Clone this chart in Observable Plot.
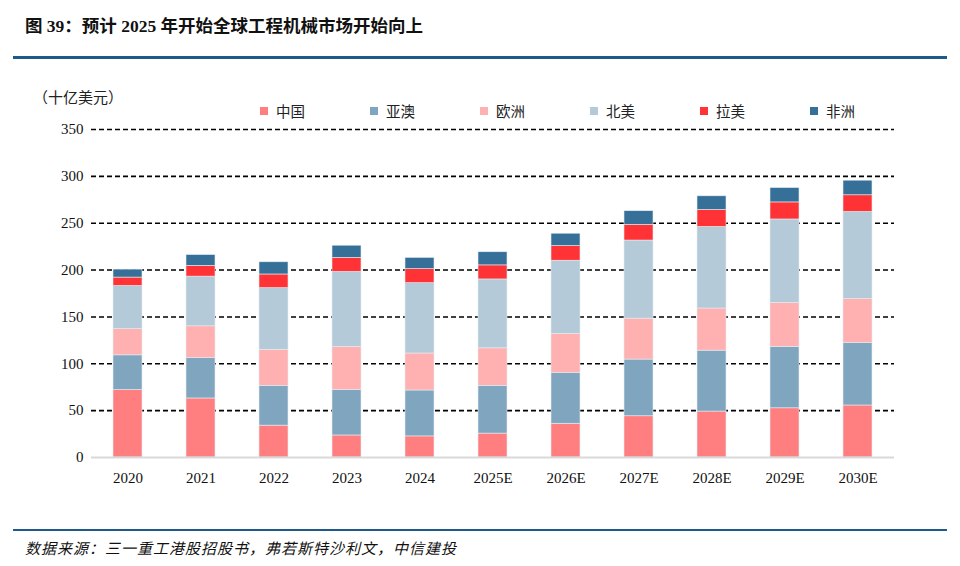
<!DOCTYPE html>
<html><head><meta charset="utf-8">
<script src="https://cdn.jsdelivr.net/npm/d3@7"></script>
<script src="https://cdn.jsdelivr.net/npm/@observablehq/plot@0.6"></script>
<style>
html,body{margin:0;padding:0;background:#fff}
#wrap{position:relative;width:960px;height:566px;overflow:hidden;font-family:"Noto Sans CJK SC","Noto Sans",sans-serif}
#title{position:absolute;left:25px;top:12px;font-family:"Liberation Serif","Noto Sans CJK SC",serif;font-weight:bold;font-size:17.5px;color:#111;white-space:nowrap}
.hline{position:absolute;left:13px;width:934px;height:3px;background:#1f5b8a}
#unit{position:absolute;left:33px;top:86px;font-size:15px;color:#222}
.leg{position:absolute;top:100px;font-size:14.5px;color:#222;display:flex;align-items:center;white-space:nowrap}
.leg i{display:inline-block;width:8px;height:8px;margin-right:8px}
#chart{position:absolute;left:0;top:60px}
#foot{position:absolute;left:25px;top:537px;font-size:15px;letter-spacing:1px;font-style:italic;color:#111;white-space:nowrap}
</style>
</head><body>
<div id="wrap">
  <div id="title">图 39：预计 2025 年开始全球工程机械市场开始向上</div>
  <div class="hline" style="top:56px"></div>
  <div id="unit">（十亿美元）</div>
  <div id="legend"></div>
  <div id="chart"></div>
  <div class="hline" style="top:529px;height:2px"></div>
  <div id="foot">数据来源：三一重工港股招股书，弗若斯特沙利文，中信建投</div>
</div>
<script>
const years = ["2020","2021","2022","2023","2024","2025E","2026E","2027E","2028E","2029E","2030E"];
const seriesNames = ["中国","亚澳","欧洲","北美","拉美","非洲"];
const china    = [72, 63, 34, 23.5, 22.5, 25.5, 36, 44, 49, 52.5, 55.5];
const asiaPac  = [37, 43, 42.5, 48.5, 49, 51, 54, 60.5, 65, 65.5, 66.5];
const europe   = [28, 34, 38.5, 46, 39.5, 40, 42, 43.7, 45, 47, 47];
const nAmerica = [46, 53, 65.7, 80, 75, 73.5, 78, 83.3, 87, 89, 93];
const latAm    = [9, 11.5, 14.6, 15, 15, 15, 15.6, 16.7, 18.2, 18.2, 17.8];
const africa   = [8.5, 11.5, 13, 13, 12, 14, 13.2, 14.6, 14.5, 15.3, 15.6];
const yTicks = [0, 50, 100, 150, 200, 250, 300, 350];
const colors = ["#ff7f80", "#80a6bf", "#ffb1b1", "#b4cad9", "#ff3336", "#366f98"];

const valuesBySeries = [china, asiaPac, europe, nAmerica, latAm, africa];
const data = [];
years.forEach((y, i) => {
  seriesNames.forEach((s, j) => data.push({year: y, series: s, value: valuesBySeries[j][i]}));
});

// legend
const legend = document.getElementById("legend");
const legX = [260, 370, 480, 590, 700, 810];
seriesNames.forEach((s, j) => {
  const d = document.createElement("div");
  d.className = "leg";
  d.style.left = legX[j] + "px";
  d.innerHTML = `<i style="background:${colors[j]}"></i>${s}`;
  legend.appendChild(d);
});

const chart = Plot.plot({
  width: 960,
  height: 440,
  marginTop: 69,
  marginBottom: 43,
  marginLeft: 91,
  marginRight: 66,
  style: {fontFamily: "'Liberation Serif', serif", fontSize: "15px", color: "#111", background: "transparent"},
  x: {domain: years, paddingInner: 0.6, paddingOuter: 0.3, label: null},
  y: {domain: [0, 350], label: null},
  color: {domain: seriesNames, range: colors},
  marks: [
    Plot.ruleY(yTicks.filter(d => d > 0), {stroke: "#000", strokeWidth: 1.6, strokeDasharray: "5,3"}),
    Plot.barY(data, {x: "year", y: "value", fill: "series", order: seriesNames, stroke: "#e4ecf2", strokeWidth: 0.6}),
    Plot.ruleY([0], {stroke: "#d9d9d9", strokeWidth: 2}),
    Plot.axisY({ticks: yTicks, tickSize: 0, tickPadding: 8, fontSize: 15}),
    Plot.axisX({tickSize: 0, tickPadding: 15, fontSize: 15})
  ]
});
document.getElementById("chart").appendChild(chart);
</script>
</body></html>
